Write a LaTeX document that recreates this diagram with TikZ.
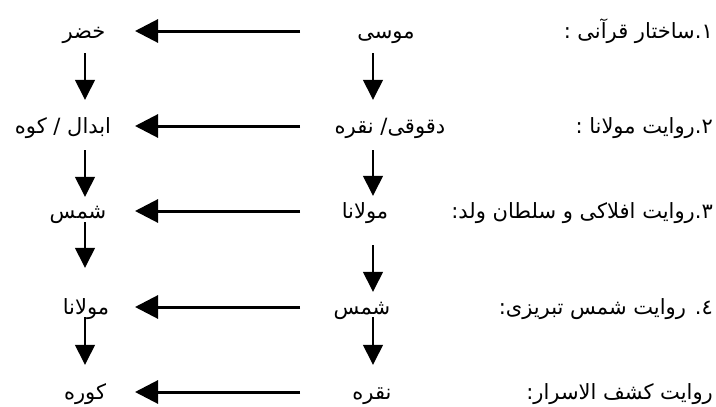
\documentclass[tikz,border=0pt]{standalone}
\usepackage{fontspec}
\newfontfamily\arabicfont[Script=Arabic]{DejaVu Sans}
\TeXXeTstate=1
\usetikzlibrary{arrows.meta}
\newcommand{\fa}[1]{\beginR #1\endR}

\begin{document}
\begin{tikzpicture}[x=1pt, y=-1pt,
  lbl/.style={font=\arabicfont\fontsize{21}{25}\selectfont, inner sep=0pt, text height=16pt, text depth=2pt},
  harrow/.style={line width=3pt, -{Triangle[length=23pt, width=23pt]}},
  varrow/.style={line width=1.4pt, -{Triangle[length=20pt, width=20pt]}}]
\useasboundingbox (0,0) rectangle (716,407);

% Column positions
\coordinate (lcol) at (85,0);
\coordinate (mcol) at (373,0);
\coordinate (hs) at (300,0);
\coordinate (he) at (135,0);

% Row labels (right side)
\node[lbl, anchor=east] (r1) at (713,31) {\fa{۱.ساختار قرآنی :}};
\node[lbl, anchor=east] (r2) at (713,126) {\fa{۲.روایت مولانا :}};
\node[lbl, anchor=east] (r3) at (713,211) {\fa{۳.روایت افلاکی و سلطان ولد:}};
\node[lbl, anchor=east] (r4) at (713,307) {\fa{٤. روایت شمس تبریزی:}};
\node[lbl, anchor=east] (r5) at (713,392) {\fa{روایت کشف الاسرار:}};

% Middle column
\node[lbl] (m1) at (386,31) {\fa{موسی}};
\node[lbl] (m2) at (390,126) {\fa{دقوقی/ نقره}};
\node[lbl] (m3) at (365,211) {\fa{مولانا}};
\node[lbl] (m4) at (362,307) {\fa{شمس}};
\node[lbl] (m5) at (372,392) {\fa{نقره}};

% Left column
\node[lbl] (l1) at (84,31) {\fa{خضر}};
\node[lbl] (l2) at (63,126) {\fa{ابدال / کوه}};
\node[lbl] (l3) at (78,211) {\fa{شمس}};
\node[lbl] (l4) at (86,307) {\fa{مولانا}};
\node[lbl] (l5) at (85,392) {\fa{کوره}};

% Horizontal arrows
\foreach \i in {1,...,5}
  \draw[harrow] (m\i.west -| hs) -- (l\i.east -| he);

% Vertical arrows
\foreach \a/\b/\s/\e in {l1/l2/13/17, l2/l3/15/5, l3/l4/2/30, l4/l5/1/18}
  \draw[varrow, shorten <=\s pt, shorten >=\e pt] (\a.south -| lcol) -- (\b.north -| lcol);
\foreach \a/\b/\s/\e in {m1/m2/13/17, m2/m3/15/6, m3/m4/25/6, m4/m5/1/18}
  \draw[varrow, shorten <=\s pt, shorten >=\e pt] (\a.south -| mcol) -- (\b.north -| mcol);
\end{tikzpicture}
\end{document}
